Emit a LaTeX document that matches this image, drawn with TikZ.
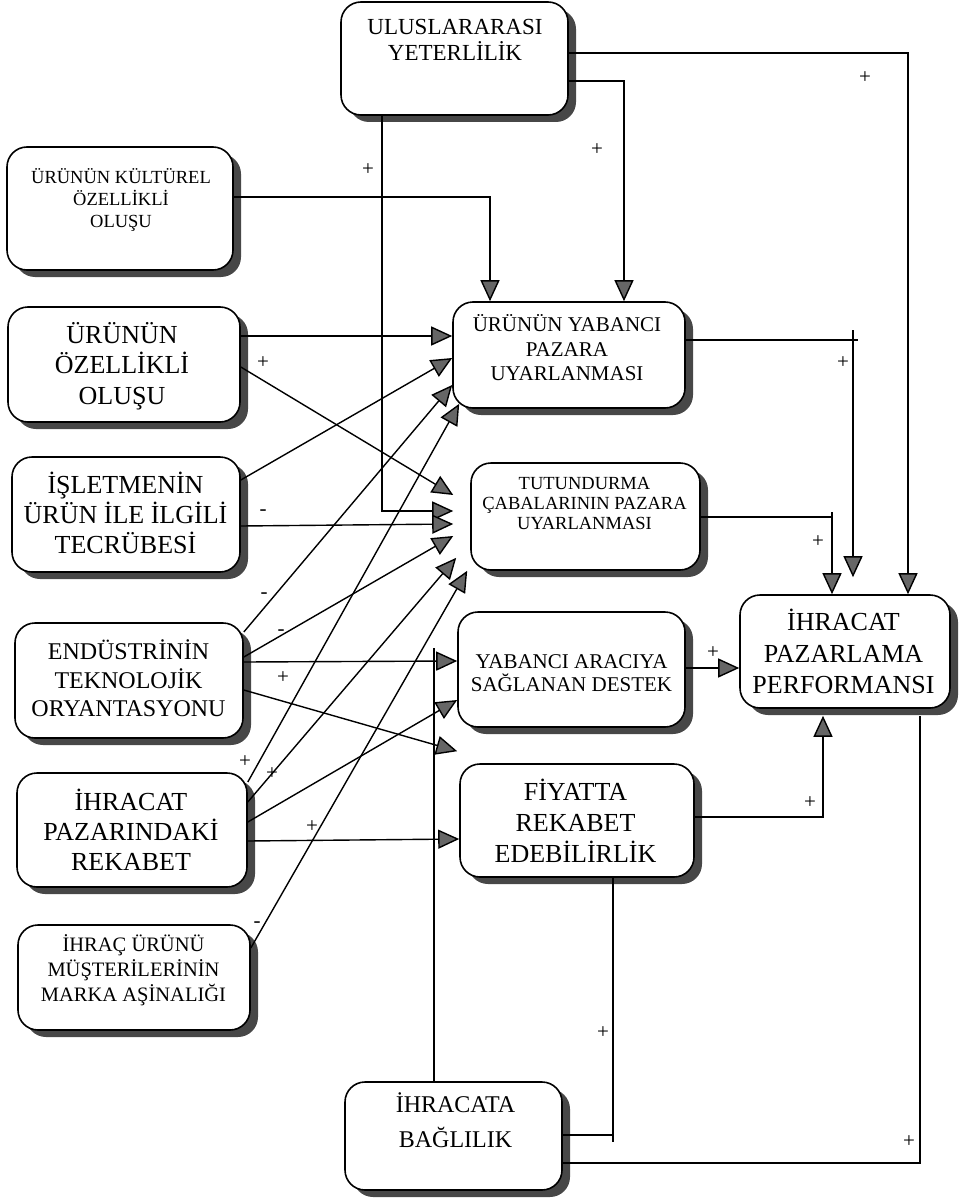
\documentclass[tikz,border=0pt]{standalone}
\usepackage{fontspec}
\setmainfont{Liberation Serif}
\usetikzlibrary{arrows.meta,shadows}
\begin{document}
\begin{tikzpicture}[x=1pt,y=-1pt,
  box/.style={draw=black, line width=1.6pt, rounded corners=20pt, fill=white, inner sep=0pt,
    drop shadow={shadow xshift=8pt, shadow yshift=-7pt, fill=black!72, opacity=1}},
  lbl/.style={inner sep=0pt, align=center},
  conn/.style={line width=1.4pt},
  arr/.style={conn, -{Triangle[length=21pt,width=19pt,fill=black!60]}},
  sign/.style={inner sep=0pt, font=\fontsize{21}{21}\selectfont}
]
\useasboundingbox (0,0) rectangle (973,1201);

% boxes
\node[box, minimum width=227pt, minimum height=113pt] (ulus) at (454.5,58.5) {};
\node[lbl, font=\fontsize{23}{26}\selectfont] (ulus-t) at (455,40) {ULUSLARARASI\\YETERLİLİK};

\node[box, minimum width=226pt, minimum height=123pt] (kult) at (120,208.5) {};
\node[lbl, font=\fontsize{18.5}{22}\selectfont] (kult-t) at (121,200) {ÜRÜNÜN KÜLTÜREL\\ÖZELLİKLİ\\OLUŞU};

\node[box, minimum width=232pt, minimum height=115pt] (ozel) at (124,364.5) {};
\node[lbl, font=\fontsize{26}{30.5}\selectfont] (ozel-t) at (122,366) {ÜRÜNÜN\\ÖZELLİKLİ\\OLUŞU};

\node[box, minimum width=228pt, minimum height=115pt] (islet) at (126,514.5) {};
\node[lbl, font=\fontsize{26}{30}\selectfont] (islet-t) at (125.5,513) {İŞLETMENİN\\ÜRÜN İLE İLGİLİ\\TECRÜBESİ};

\node[box, minimum width=228pt, minimum height=115pt] (endus) at (129,680.5) {};
\node[lbl, font=\fontsize{24}{28.5}\selectfont] (endus-t) at (128.5,678.5) {ENDÜSTRİNİN\\TEKNOLOJİK\\ORYANTASYONU};

\node[box, minimum width=230pt, minimum height=114pt] (rekab) at (132,830) {};
\node[lbl, font=\fontsize{26}{30}\selectfont] (rekab-t) at (131,830) {İHRACAT\\PAZARINDAKİ\\REKABET};

\node[box, minimum width=232pt, minimum height=105pt] (ihrac) at (134,977.5) {};
\node[lbl, font=\fontsize{20.5}{25}\selectfont] (ihrac-t) at (133.5,970) {İHRAÇ ÜRÜNÜ\\MÜŞTERİLERİNİN\\MARKA AŞİNALIĞI};

\node[box, minimum width=232pt, minimum height=106pt] (yabpaz) at (569,355) {};
\node[lbl, font=\fontsize{21}{24.5}\selectfont] (yabpaz-t) at (567,348) {ÜRÜNÜN YABANCI\\PAZARA\\UYARLANMASI};

\node[box, minimum width=229pt, minimum height=107pt] (tutun) at (585.5,516.5) {};
\node[lbl, font=\fontsize{18.5}{20}\selectfont] (tutun-t) at (584.5,503) {TUTUNDURMA\\ÇABALARININ PAZARA\\UYARLANMASI};

\node[box, minimum width=227pt, minimum height=115pt] (arac) at (571.5,669.5) {};
\node[lbl, font=\fontsize{21}{23}\selectfont] (arac-t) at (571.5,673.5) {YABANCI ARACIYA\\SAĞLANAN DESTEK};

\node[box, minimum width=234pt, minimum height=113pt] (fiyat) at (577,820.5) {};
\node[lbl, font=\fontsize{26}{31}\selectfont] (fiyat-t) at (575.5,821) {FİYATTA\\REKABET\\EDEBİLİRLİK};

\node[box, minimum width=210pt, minimum height=113pt] (perf) at (845,651.5) {};
\node[lbl, font=\fontsize{26}{31.5}\selectfont] (perf-t) at (843.5,651.5) {İHRACAT\\PAZARLAMA\\PERFORMANSI};

\node[box, minimum width=217pt, minimum height=108pt] (bagl) at (453.5,1136) {};
\node[lbl, font=\fontsize{24}{35}\selectfont] (bagl-t) at (455.5,1120.5) {İHRACATA\\BAĞLILIK};

% helper coordinates
\coordinate (tutL) at ([xshift=-17pt]tutun.west);
\coordinate (perfTop) at ([yshift=17pt]perf.north);
\coordinate (perfBot) at ([yshift=-7pt]perf.south);
\coordinate (bagEnd) at (434,648);
\coordinate (cornerR) at (853,340);
\coordinate (cornerS) at (832,517);
\coordinate (cornerW) at (613,1135);

% connectors
\draw[arr] (ulus.east |- 0,53) -| (perf.north -| 908,0);
\draw[arr] (ulus.east |- 0,81) -| (yabpaz.north -| 624,0);
\draw[arr] (ulus.south -| 382,0) |- (tutL |- 0,511);
\draw[arr] (kult.east |- 0,197) -| (yabpaz.north -| 490,0);
\draw[arr] (ozel.east |- 0,336) -- (yabpaz.west |- 0,336);
\draw[arr] (ozel.east |- 0,367) -- (tutL |- 0,495);
\draw[arr] (islet.east |- 0,480) -- (yabpaz.west |- 0,358);
\draw[arr] (islet.east |- 0,526) -- (tutL |- 0,524);
\draw[arr] (endus.east |- 0,632) -- (yabpaz.west |- 0,385);
\draw[arr] (endus.east |- 0,657) -- (tutL |- 0,536);
\draw[arr] (endus.east |- 0,662) -- (arac.west |- 0,661);
\draw[arr] (endus.east |- 0,690) -- ([shift={(-2,-12)}]fiyat.north west);
\draw[arr] (rekab.east |- 0,782) -- ([shift={(7,-5)}]yabpaz.south west);
\draw[arr] (rekab.east |- 0,802) -- ([shift={(-14,-13)}]tutun.south west);
\draw[arr] (rekab.east |- 0,822) -- (arac.west |- 0,700);
\draw[arr] (rekab.east |- 0,841) -- (fiyat.west |- 0,839);
\draw[arr] (ihrac.east |- 0,948) -- ([shift={(-3,0)}]tutun.south west);
\draw[arr] (yabpaz.east |- 0,340) -| (perfTop -| 853,0);
\draw[arr] (tutun.east |- 0,517) -| (perf.north -| 832,0);
\draw[arr] (arac.east |- 0,668) -- (perf.west |- 0,668);
\draw[arr] (fiyat.east |- 0,817) -| (perfBot -| 823,0);
\draw[conn] (bagl.east |- 0,1163) -| (perfBot -| 920,0);
\draw[conn] (bagl.east |- 0,1135) -| (fiyat.south -| 613,0);
\draw[conn] (bagl.north -| 434,0) -- (bagEnd);
% small overshoots at corners
\draw[conn] (cornerR) -- ++(0,-10);
\draw[conn] (cornerR) -- ++(5,0);
\draw[conn] (cornerS) -- ++(0,-5);
\draw[conn] (cornerW) -- ++(0,7);

% signs
\node[sign] (s1) at (865,78) {+};
\node[sign] (s2) at (597,150) {+};
\node[sign] (s3) at (368,170) {+};
\node[sign] (s4) at (263,363) {+};
\node[sign] (s5) at (263,513) {-};
\node[sign] (s6) at (264,596) {-};
\node[sign] (s7) at (281,633) {-};
\node[sign] (s8) at (283,678) {+};
\node[sign] (s9) at (245,762) {+};
\node[sign] (s10) at (272,774) {+};
\node[sign] (s11) at (312,827) {+};
\node[sign] (s12) at (257,925) {-};
\node[sign] (s13) at (843,363) {+};
\node[sign] (s14) at (818,542) {+};
\node[sign] (s15) at (713,653) {+};
\node[sign] (s16) at (810,803) {+};
\node[sign] (s17) at (603,1033) {+};
\node[sign] (s18) at (909,1142) {+};
\end{tikzpicture}
\end{document}
